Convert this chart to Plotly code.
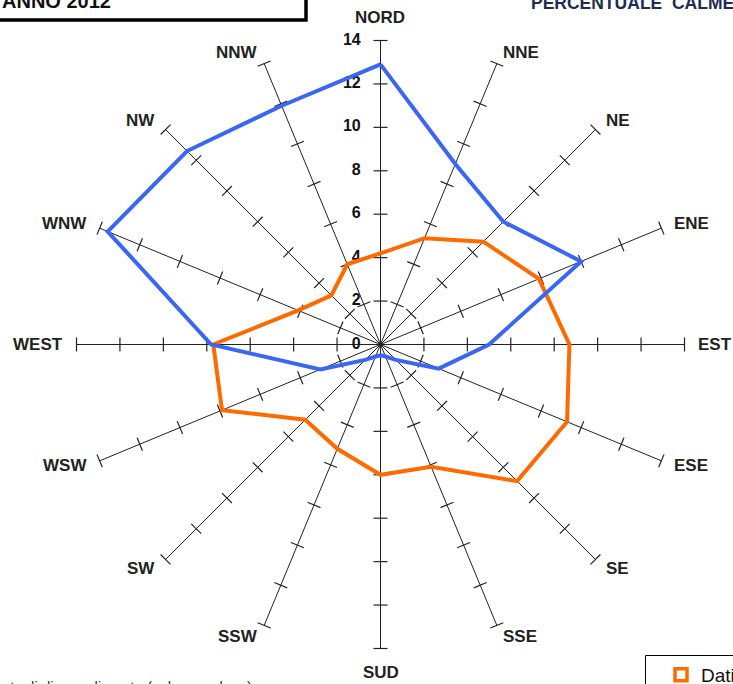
import math
import plotly.graph_objects as go

# Wind directions (clockwise from north)
directions = ["NORD", "NNE", "NE", "ENE", "EST", "ESE", "SE", "SSE",
              "SUD", "SSW", "SW", "WSW", "WEST", "WNW", "NW", "NNW"]

# Frequency of occurrence (%) per direction
dati_2012 = [4.2, 5.3, 6.7, 7.9, 8.7, 9.3, 8.9, 6.1,
             6.0, 5.2, 4.9, 7.9, 7.7, 4.1, 3.2, 4.0]
dati_storici = [12.9, 9.0, 8.0, 10.0, 5.0, 2.9, 1.0, 0.6,
                0.5, 0.6, 1.0, 3.0, 7.8, 13.6, 12.6, 11.9]

# Radial scale ticks
radial_ticks = [0, 2, 4, 6, 8, 10, 12, 14]

W, H = 733, 684
CX, CY, R = 380.5, 344.5, 304.0  # polar centre / radius in px
R_MAX = radial_ticks[-1]


def px_x(x):
    return x / W


def px_y(y):
    return 1 - y / H


ORANGE = "#FF6A00"
BLUE = "#3A66F5"
FONT = "Liberation Sans"
INK = "#222222"

fig = go.Figure()

# small perpendicular tick marks along every spoke
step = 360 / len(directions)
tick_r, tick_t, tick_a = [], [], []
for i, d in enumerate(directions):
    for v in radial_ticks[1:]:
        tick_r.append(v)
        tick_t.append(d)
        tick_a.append(i * step)
fig.add_trace(go.Scatterpolar(
    r=tick_r, theta=tick_t, mode="markers", showlegend=False, hoverinfo="skip",
    marker=dict(symbol="line-ew", size=10, angle=tick_a,
                line=dict(color=INK, width=1.2)),
))

# radial scale labels along the north spoke
fig.add_trace(go.Scatterpolar(
    r=radial_ticks, theta=[directions[0]] * len(radial_ticks),
    mode="markers+text", text=[str(v) for v in radial_ticks],
    textposition="middle left", showlegend=False, hoverinfo="skip",
    marker=dict(size=30, color="rgba(0,0,0,0)"),
    textfont=dict(family=FONT, size=16, color="#111111", weight="bold"),
    cliponaxis=False,
))

# data series (closed polygons)
fig.add_trace(go.Scatterpolar(
    r=dati_2012 + dati_2012[:1], theta=directions + directions[:1],
    mode="lines", line=dict(color=ORANGE, width=4), showlegend=False,
    name="Dati 2012",
))
fig.add_trace(go.Scatterpolar(
    r=dati_storici + dati_storici[:1], theta=directions + directions[:1],
    mode="lines", line=dict(color=BLUE, width=4), showlegend=False,
    name="Dati storici",
))

# legend keys
fig.add_trace(go.Scatterpolar(
    r=[None], theta=[None], mode="markers", name="Dati 2012",
    marker=dict(symbol="square-open", size=12, color=ORANGE,
                line=dict(color=ORANGE, width=3.5)),
))
fig.add_trace(go.Scatterpolar(
    r=[None], theta=[None], mode="markers", name="Dati storici",
    marker=dict(symbol="square-open", size=12, color=BLUE,
                line=dict(color=BLUE, width=3.5)),
))

fig.update_layout(
    width=W, height=H,
    margin=dict(l=0, r=0, t=0, b=0, autoexpand=False),
    paper_bgcolor="white",
    polar=dict(
        domain=dict(x=[px_x(CX - R), px_x(CX + R)],
                    y=[px_y(CY + R), px_y(CY - R)]),
        bgcolor="white",
        angularaxis=dict(
            direction="clockwise", rotation=90, type="category",
            categoryorder="array", categoryarray=directions,
            showline=False, showgrid=True, gridcolor=INK, gridwidth=1.2,
            ticks="", showticklabels=False,
        ),
        radialaxis=dict(
            range=[0, R_MAX], tickvals=radial_ticks, angle=90,
            showgrid=False, showline=False, ticks="", showticklabels=False,
        ),
    ),
    legend=dict(
        x=px_x(661), y=px_y(656), xanchor="left", yanchor="top",
        borderwidth=0, bgcolor="rgba(0,0,0,0)",
        font=dict(family=FONT, size=19, color="#111111"),
        itemsizing="trace", itemwidth=30,
    ),
    showlegend=True,
)

# legend frame
fig.add_shape(type="rect", xref="paper", yref="paper",
              x0=px_x(645.5), x1=px_x(760), y0=px_y(720), y1=px_y(655.5),
              line=dict(color="#000000", width=1), fillcolor="white",
              layer="below")

# direction names next to the end of each spoke: placed beside the end
# point on the east/west sides, above/below it on the north-south spoke
GAP = 11.5
for i, name in enumerate(directions):
    a = math.radians(i * step)
    s, c = math.sin(a), math.cos(a)
    ex, ey = CX + R * s, CY - R * c
    if abs(s) < 0.1:
        x, y, xa = ex, ey - math.copysign(23.5, c), "center"
    else:
        x, y = ex + GAP * s, ey - 12.5 * c
        xa = "left" if s > 0 else "right"
    fig.add_annotation(
        xref="paper", yref="paper", x=px_x(x), y=px_y(y),
        xanchor=xa, yanchor="middle", showarrow=False,
        text=f"<b>{name}</b>",
        font=dict(family=FONT, size=17, color=INK),
    )

# year box at top-left
fig.add_shape(type="rect", xref="paper", yref="paper",
              x0=px_x(-20), x1=px_x(306), y0=px_y(20), y1=px_y(-20),
              line=dict(color="#000000", width=3.5), fillcolor="white")
fig.add_annotation(xref="paper", yref="paper", x=px_x(113), y=px_y(14),
                   xanchor="right", yanchor="bottom", showarrow=False,
                   text="<b>ANNO 2012</b>",
                   font=dict(family=FONT, size=20, color="#111111"))

fig.add_annotation(xref="paper", yref="paper", x=px_x(529), y=px_y(15),
                   xanchor="left", yanchor="bottom", showarrow=False,
                   text="<b>PERCENTUALE  CALME</b>",
                   font=dict(family=FONT, size=17.5, color="#1E2B55"))

fig.add_annotation(xref="paper", yref="paper", x=px_x(254), y=px_y(676),
                   xanchor="right", yanchor="top", showarrow=False,
                   text="Valori percentuali di accadimento (calme escluse)",
                   font=dict(family=FONT, size=15, color="#333333"))

fig.write_html("out.html")
